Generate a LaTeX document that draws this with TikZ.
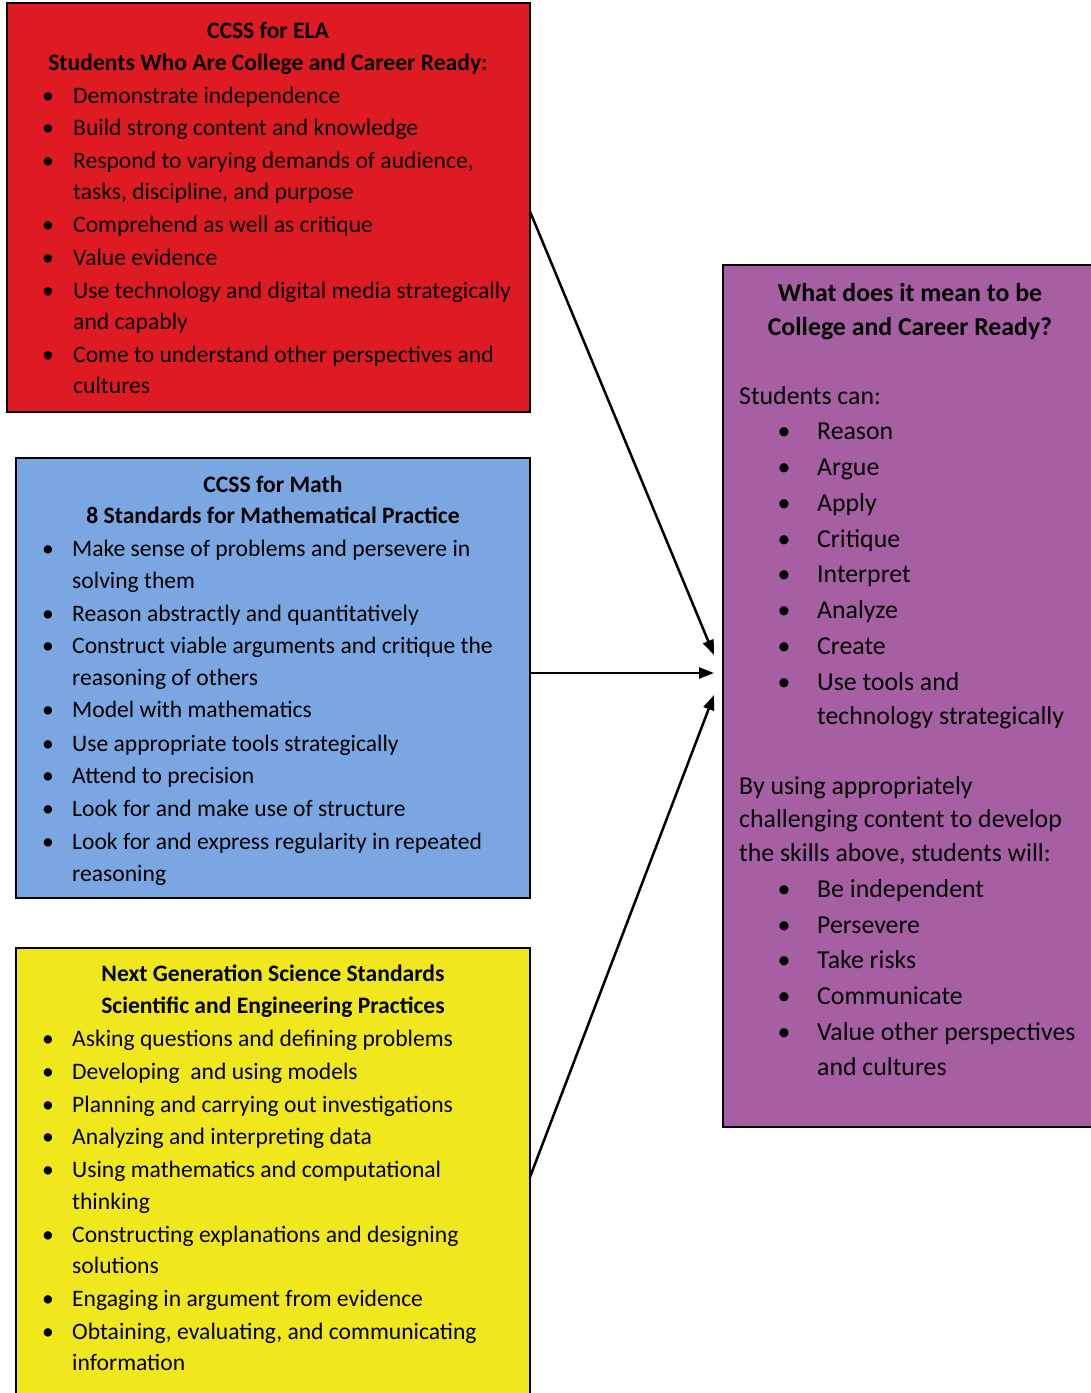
\documentclass[tikz,border=0pt]{standalone}
\usepackage{fontspec}
\setmainfont{Carlito}
\usetikzlibrary{arrows.meta}
\definecolor{elared}{HTML}{DE1B22}
\definecolor{mathblue}{HTML}{7AA7E2}
\definecolor{sciyellow}{HTML}{F0E81C}
\definecolor{ccrpurple}{HTML}{A75FA3}
\newcommand\bitem[5]{\node[bul] (#1b) at (#2,#4) {\textbullet}; \node[txt] (#1) at (#3,#4) {#5};}
\newcommand\citem[4]{\node[txt] (#1) at (#2,#3) {#4};}
\begin{document}
\begin{tikzpicture}[x=1pt,y=-1pt,
  box/.style={draw=black, line width=2pt, inner sep=0pt, outer sep=0pt, anchor=north west},
  txt/.style={anchor=base west, inner sep=0pt},
  bul/.style={anchor=base, inner sep=0pt},
  ttl/.style={anchor=base, inner sep=0pt},
  conn/.style={line width=2.5pt, -{Triangle[length=15pt,width=11pt]}}]
\useasboundingbox (0,0) rectangle (1091,1393);
\fill[white] (0,0) rectangle (1091,1393);
% boxes
\node[box, fill=elared, minimum width=523pt, minimum height=409pt] (redbox) at (7,3) {};
\node[box, fill=mathblue, minimum width=514pt, minimum height=440pt] (bluebox) at (16,458) {};
\node[box, fill=sciyellow, minimum width=514pt, minimum height=446pt] (yellowbox) at (16,948) {};
\node[box, fill=ccrpurple, minimum width=380pt, minimum height=862pt] (purplebox) at (723,265) {};
% red text
\begin{scope}[font=\fontsize{23.6}{28}\selectfont]
\node[ttl] (rt1) at (268,38) {\textbf{CCSS for ELA}};
\node[ttl] (rt2) at (268,70) {\textbf{Students Who Are College and Career Ready:}};
\bitem{r1}{48}{73}{103}{Demonstrate independence}
\bitem{r2}{48}{73}{135}{Build strong content and knowledge}
\bitem{r3}{48}{73}{168}{Respond to varying demands of audience,}
\citem{r4}{73}{199}{tasks, discipline, and purpose}
\bitem{r5}{48}{73}{232}{Comprehend as well as critique}
\bitem{r6}{48}{73}{265}{Value evidence}
\bitem{r7}{48}{73}{298}{Use technology and digital media strategically}
\citem{r8}{73}{329}{and capably}
\bitem{r9}{48}{73}{362}{Come to understand other perspectives and}
\citem{r10}{73}{393}{cultures}
% blue text
\node[ttl] (bt1) at (273,492) {\textbf{CCSS for Math}};
\node[ttl] (bt2) at (273,523) {\textbf{8 Standards for Mathematical Practice}};
\bitem{b1}{48}{72}{556}{Make sense of problems and persevere in}
\citem{b2}{72}{588}{solving them}
\bitem{b3}{48}{72}{621}{Reason abstractly and quantitatively}
\bitem{b4}{48}{72}{653}{Construct viable arguments and critique the}
\citem{b5}{72}{685}{reasoning of others}
\bitem{b6}{48}{72}{717}{Model with mathematics}
\bitem{b7}{48}{72}{751}{Use appropriate tools strategically}
\bitem{b8}{48}{72}{783}{Attend to precision}
\bitem{b9}{48}{72}{816}{Look for and make use of structure}
\bitem{b10}{48}{72}{849}{Look for and express regularity in repeated}
\citem{b11}{72}{881}{reasoning}
% yellow text
\node[ttl] (yt1) at (273,981) {\textbf{Next Generation Science Standards}};
\node[ttl] (yt2) at (273,1013) {\textbf{Scientific and Engineering Practices}};
\bitem{y1}{48}{72}{1046}{Asking questions and defining problems}
\bitem{y2}{48}{72}{1079}{Developing\ \ and using models}
\bitem{y3}{48}{72}{1112}{Planning and carrying out investigations}
\bitem{y4}{48}{72}{1144}{Analyzing and interpreting data}
\bitem{y5}{48}{72}{1177}{Using mathematics and computational}
\citem{y6}{72}{1209}{thinking}
\bitem{y7}{48}{72}{1242}{Constructing explanations and designing}
\citem{y8}{72}{1273}{solutions}
\bitem{y9}{48}{72}{1306}{Engaging in argument from evidence}
\bitem{y10}{48}{72}{1339}{Obtaining, evaluating, and communicating}
\citem{y11}{72}{1370}{information}
\end{scope}
% purple text
\begin{scope}[font=\fontsize{25.8}{30}\selectfont]
\node[ttl] (pt1) at (910,301) {\textbf{What does it mean to be}};
\node[ttl] (pt2) at (910,335) {\textbf{College and Career Ready?}};
\citem{p0}{739}{404}{Students can:}
\bitem{p1}{784}{817}{439}{Reason}
\bitem{p2}{784}{817}{475}{Argue}
\bitem{p3}{784}{817}{511}{Apply}
\bitem{p4}{784}{817}{547}{Critique}
\bitem{p5}{784}{817}{582}{Interpret}
\bitem{p6}{784}{817}{618}{Analyze}
\bitem{p7}{784}{817}{654}{Create}
\bitem{p8}{784}{817}{690}{Use tools and}
\citem{p9}{817}{724}{technology strategically}
\citem{q0}{739}{794}{By using appropriately}
\citem{q1}{739}{827}{challenging content to develop}
\citem{q2}{739}{861}{the skills above, students will:}
\bitem{s1}{784}{817}{897}{Be independent}
\bitem{s2}{784}{817}{933}{Persevere}
\bitem{s3}{784}{817}{968}{Take risks}
\bitem{s4}{784}{817}{1004}{Communicate}
\bitem{s5}{784}{817}{1040}{Value other perspectives}
\citem{s6}{817}{1075}{and cultures}
\end{scope}
% connectors
\coordinate (tgt1) at (714,655);
\coordinate (tgt2) at (714,673);
\coordinate (tgt3) at (714,695);
\draw[conn] (redbox.east) ++(0,4) -- (tgt1);
\draw[conn] (bluebox.east) ++(0,-5) -- (tgt2);
\draw[conn] (yellowbox.east) ++(0,6) -- (tgt3);
\end{tikzpicture}
\end{document}
